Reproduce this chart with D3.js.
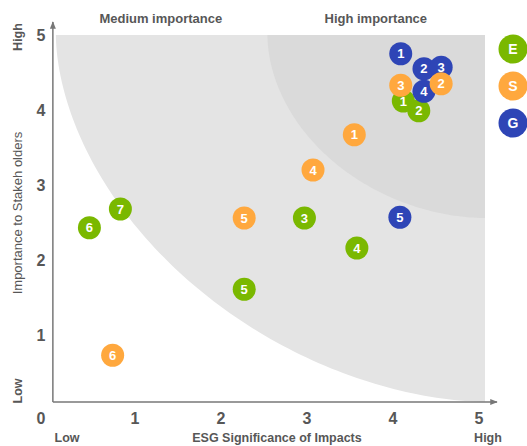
<!DOCTYPE html>
<html>
<head>
<meta charset="utf-8">
<script src="https://cdn.jsdelivr.net/npm/d3@7"></script>
<style>
  html, body { margin: 0; padding: 0; background: #fff; }
  svg { display: block; font-family: "Liberation Sans", Arial, Helvetica, sans-serif; }
</style>
</head>
<body>
<svg id="chart" width="527" height="446"></svg>
<script>
// ---------- data ----------
const xTicks = [0, 1, 2, 3, 4, 5];
const yTicks = [1, 2, 3, 4, 5];
const categories = ["E", "S", "G"];
const categoryColors = ["#7ab800", "#ffa83e", "#2e45b6"];

// Environmental
const envLabels = ["1", "2", "3", "4", "5", "6", "7"];
const envX = [4.12, 4.30, 2.97, 3.58, 2.27, 0.47, 0.83];
const envY = [4.12, 3.99, 2.56, 2.16, 1.61, 2.43, 2.68];
// Governance
const govLabels = ["1", "2", "3", "4", "5"];
const govX = [4.09, 4.36, 4.56, 4.36, 4.08];
const govY = [4.75, 4.55, 4.57, 4.25, 2.57];
// Social
const socLabels = ["1", "2", "3", "4", "5", "6"];
const socX = [3.55, 4.56, 4.09, 3.07, 2.27, 0.74];
const socY = [3.67, 4.35, 4.33, 3.20, 2.56, 0.73];

// importance zones: rounded arcs around the top-right corner (data units)
const zoneRadiusX = [4.99, 2.53];
const zoneRadiusY = [4.89, 2.44];
const zoneExponent = [1.8, 1.9];

const zoneLabels = ["Medium importance", "High importance"];
const zoneLabelX = [1.30, 3.80];

// ---------- layout ----------
const svg = d3.select("#chart");
const x = d3.scaleLinear().domain([0, 5]).range([49, 479]);
const y = d3.scaleLinear().domain([0, 5]).range([410, 35]);
const frame = { x0: 0.045, x1: 5.07, y0: 0.106, y1: 5 };
const textColor = "#575757";
const axisColor = "#777";

// plot background
svg.append("rect")
  .attr("x", x(frame.x0)).attr("y", y(frame.y1))
  .attr("width", x(frame.x1) - x(frame.x0))
  .attr("height", y(frame.y0) - y(frame.y1))
  .attr("fill", "#e4e4e4");

const line = d3.line().x(d => x(d[0])).y(d => y(d[1]));
function arcPoints(i) {
  const a = zoneRadiusX[i], b = zoneRadiusY[i], p = 2 / zoneExponent[i];
  return d3.range(0, 101).map(k => {
    const t = (k / 100) * Math.PI / 2;
    return [frame.x1 - a * Math.pow(Math.cos(t), p), frame.y1 - b * Math.pow(Math.sin(t), p)];
  });
}

// white low-importance zone (outside outer arc)
svg.append("path")
  .attr("d", line(arcPoints(0)) + `L${x(frame.x1)},${y(frame.y0)}L${x(frame.x0)},${y(frame.y0)}L${x(frame.x0)},${y(frame.y1)}Z`)
  .attr("fill", "#fff");

// darker high-importance zone
svg.append("path")
  .attr("d", line(arcPoints(1)) + `L${x(frame.x1)},${y(frame.y1)}Z`)
  .attr("fill", "#dadada");

// axes with arrows
const defs = svg.append("defs");
defs.append("marker").attr("id", "arrow")
  .attr("viewBox", "0 0 10 10").attr("refX", 9).attr("refY", 5)
  .attr("markerWidth", 5).attr("markerHeight", 5)
  .attr("orient", "auto")
  .append("path").attr("d", "M0,1L10,5L0,9Z").attr("fill", axisColor);

svg.append("line")
  .attr("x1", x(frame.x0)).attr("y1", y(frame.y0))
  .attr("x2", x(frame.x0)).attr("y2", 22)
  .attr("stroke", axisColor).attr("stroke-width", 1.5)
  .attr("marker-end", "url(#arrow)");
svg.append("line")
  .attr("x1", x(frame.x0)).attr("y1", y(frame.y0))
  .attr("x2", 497).attr("y2", y(frame.y0))
  .attr("stroke", axisColor).attr("stroke-width", 1.5)
  .attr("marker-end", "url(#arrow)");

// tick labels
svg.append("g").selectAll("text").data(xTicks).join("text")
  .attr("x", d => d === 0 ? 41 : x(d))
  .attr("y", 424)
  .attr("text-anchor", "middle")
  .attr("font-size", 16).attr("font-weight", "bold")
  .attr("fill", textColor)
  .text(d => d);

svg.append("g").selectAll("text").data(yTicks).join("text")
  .attr("x", 41)
  .attr("y", d => y(d) + 6)
  .attr("text-anchor", "middle")
  .attr("font-size", 16).attr("font-weight", "bold")
  .attr("fill", textColor)
  .text(d => d);

// zone headers
svg.append("g").selectAll("text").data(zoneLabels).join("text")
  .attr("x", (d, i) => x(zoneLabelX[i]))
  .attr("y", 23)
  .attr("text-anchor", "middle")
  .attr("font-size", 13).attr("font-weight", "bold")
  .attr("fill", textColor)
  .text(d => d);

// axis titles
const bottomY = 442;
svg.append("text")
  .attr("x", 277).attr("y", bottomY)
  .attr("text-anchor", "middle")
  .attr("font-size", 12.5).attr("font-weight", "bold")
  .attr("fill", textColor)
  .text("ESG Significance of Impacts");
svg.append("text")
  .attr("x", 67).attr("y", bottomY)
  .attr("text-anchor", "middle")
  .attr("font-size", 12.5).attr("font-weight", "bold")
  .attr("fill", textColor)
  .text("Low");
svg.append("text")
  .attr("x", 488).attr("y", bottomY)
  .attr("text-anchor", "middle")
  .attr("font-size", 12.5).attr("font-weight", "bold")
  .attr("fill", textColor)
  .text("High");

svg.append("text")
  .attr("transform", "translate(22,213) rotate(-90)")
  .attr("text-anchor", "middle")
  .attr("font-size", 13)
  .attr("fill", textColor)
  .text("Importance to Stakeh olders");
svg.append("text")
  .attr("transform", "translate(22,37) rotate(-90)")
  .attr("text-anchor", "middle")
  .attr("font-size", 12.5).attr("font-weight", "bold")
  .attr("fill", textColor)
  .text("High");
svg.append("text")
  .attr("transform", "translate(22,391) rotate(-90)")
  .attr("text-anchor", "middle")
  .attr("font-size", 12.5).attr("font-weight", "bold")
  .attr("fill", textColor)
  .text("Low");

// bubbles: draw E, then G, then S
const series = [
  { cat: "E", xs: envX, ys: envY, labels: envLabels },
  { cat: "G", xs: govX, ys: govY, labels: govLabels },
  { cat: "S", xs: socX, ys: socY, labels: socLabels }
];
const color = d3.scaleOrdinal().domain(categories).range(categoryColors);

series.forEach(s => {
  const pts = s.xs.map((v, i) => ({ x: v, y: s.ys[i], label: s.labels[i] }));
  const g = svg.append("g").selectAll("g").data(pts).join("g")
    .attr("transform", d => `translate(${x(d.x)},${y(d.y)})`);
  g.append("circle").attr("r", 11.5).attr("fill", color(s.cat));
  g.append("text")
    .attr("text-anchor", "middle").attr("dy", "0.36em")
    .attr("font-size", 13).attr("font-weight", "bold")
    .attr("fill", "#fff")
    .text(d => d.label);
});

// legend
const legend = svg.append("g").selectAll("g").data(categories).join("g")
  .attr("transform", (d, i) => `translate(513,${49 + i * 37})`);
legend.append("circle").attr("r", 14.5).attr("fill", d => color(d));
legend.append("text")
  .attr("text-anchor", "middle").attr("dy", "0.36em")
  .attr("font-size", 14).attr("font-weight", "bold")
  .attr("fill", "#fff")
  .text(d => d);
</script>
</body>
</html>
